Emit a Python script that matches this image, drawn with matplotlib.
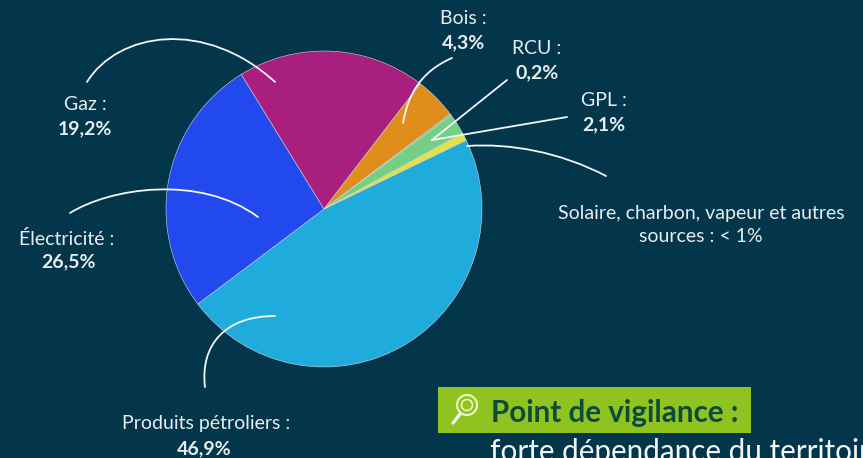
import matplotlib
matplotlib.use("Agg")
import matplotlib.pyplot as plt
from matplotlib.path import Path
from matplotlib.patches import PathPatch, Rectangle, Circle

plt.rcParams['font.family'] = ['Lato', 'DejaVu Sans']

categories = ["Produits pétroliers", "Électricité", "Gaz", "Bois", "RCU", "GPL",
              "Solaire, charbon, vapeur et autres sources"]
values = [46.9, 26.5, 19.2, 4.3, 0.2, 2.1, 0.8]
colors = ["#1fabdc", "#2149ee", "#a81f7d", "#e08d1b", "#74cf85", "#74cf85", "#e3e04c"]

W, H = 863, 458
BG = "#03364a"
INK = "#e6eef0"
fig = plt.figure(figsize=(W / 100, H / 100), dpi=100, facecolor=BG)
ax = fig.add_axes([0, 0, 1, 1])
ax.set_facecolor(BG)

def Y(y):
    return H - y

ax.pie(values, colors=colors, startangle=25.8, counterclock=False,
       center=(324, Y(209)), radius=158,
       wedgeprops=dict(linewidth=0.4, edgecolor="#cfd8dc"))
ax.set_xlim(0, W)
ax.set_ylim(0, H)
ax.set_aspect("equal")
ax.axis("off")

def curve(*pts, lw=1.3):
    p = [(x, Y(y)) for x, y in pts]
    if len(p) == 2:
        codes = [Path.MOVETO, Path.LINETO]
    else:
        codes = [Path.MOVETO, Path.CURVE4, Path.CURVE4, Path.CURVE4]
    ax.add_patch(PathPatch(Path(p, codes), fc="none", ec="#f2f6f7", lw=lw,
                           capstyle="round", zorder=5))

curve((87, 82), (118, 32), (205, 18), (275, 82))
curve((70, 213), (110, 188), (200, 174), (258, 217))
curve((205, 387), (200, 345), (225, 316), (275, 316))
curve((452, 58), (420, 72), (408, 95), (403, 123))
curve((507, 80), (432, 140))
curve((567, 117), (432, 140))
curve((467, 146), (510, 143), (560, 152), (606, 176))

def label(x, y, s, weight="normal", size=14):
    ax.text(x, Y(y), s, color=INK, fontsize=size, fontweight=weight,
            ha="center", va="center", zorder=6)

label(85, 104, "Gaz :")
label(85, 129, "19,2%", "bold")
label(67, 239, "Électricité :")
label(68, 262, "26,5%", "bold")
label(206, 424, "Produits pétroliers :")
label(204, 449, "46,9%", "bold")
label(463, 18, "Bois :")
label(463, 43, "4,3%", "bold")
label(537, 48, "RCU :")
label(537, 73, "0,2%", "bold")
label(604, 100, "GPL :")
label(604, 125, "2,1%", "bold")
label(701, 213, "Solaire, charbon, vapeur et autres")
label(701, 237, "sources : < 1%")

# Callout
ax.add_patch(Rectangle((438, Y(433)), 313, 46, fc="#8fc31f", ec="none", zorder=4))
ax.add_patch(Circle((467, Y(405)), 10, fc="none", ec="#eaf5c8", lw=1.5, zorder=5))
ax.add_patch(Circle((467, Y(405)), 5.5, fc="none", ec="#eaf5c8", lw=1.2, zorder=5))
curve((460, 414), (453, 423), lw=2.4)
ax.text(491, Y(422), "Point de vigilance :", color="#0e4a3c", fontsize=21.3,
        fontweight="bold", ha="left", va="baseline", zorder=6)
ax.text(490, Y(461), "forte dépendance du territoire", color="#f2f6f7", fontsize=21.3,
        ha="left", va="baseline", zorder=6, clip_on=True)

fig.savefig("out.png", dpi=100, facecolor=BG)
